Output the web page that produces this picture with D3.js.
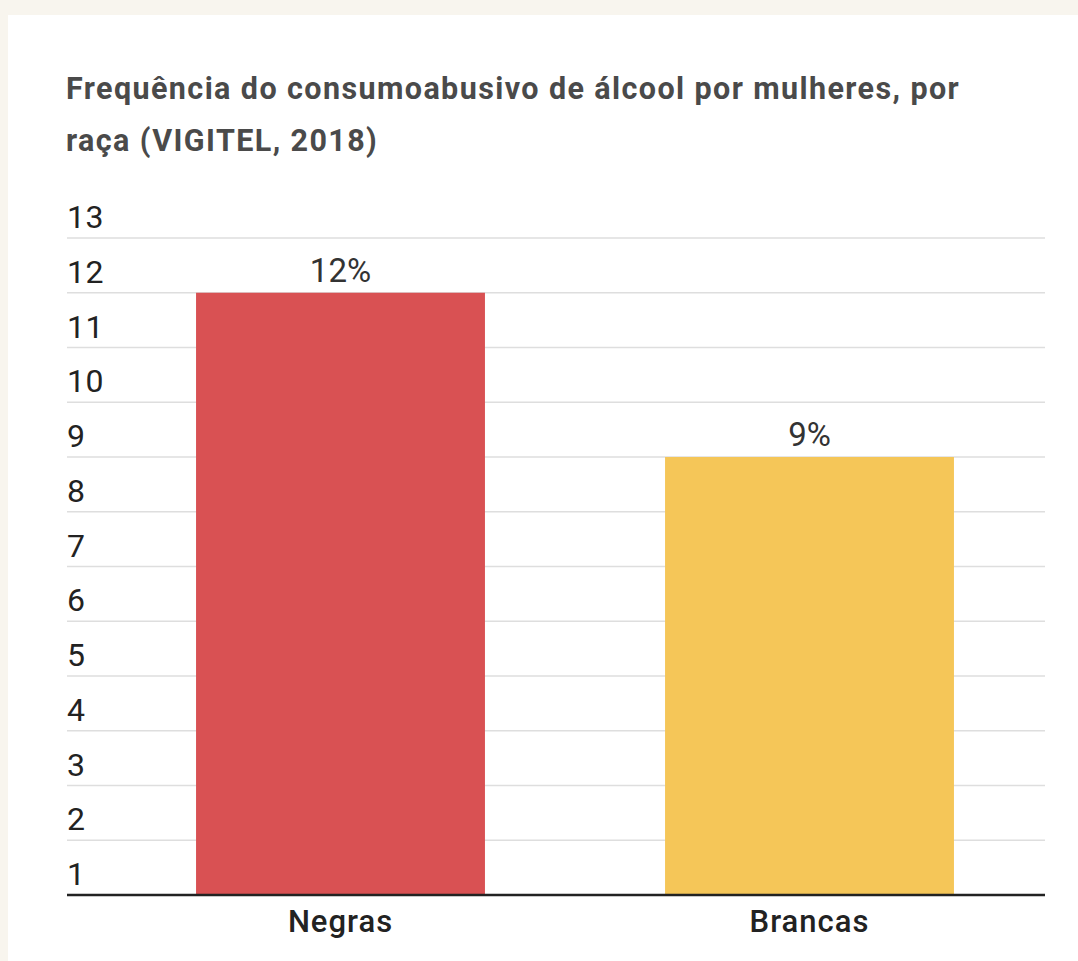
<!DOCTYPE html>
<html><head><meta charset="utf-8">
<script src="https://cdn.jsdelivr.net/npm/d3@7"></script>
<style>
html,body{margin:0;padding:0;background:#f8f5ee;}
svg{display:block;}
</style></head>
<body>
<script>
const categories = ["Negras", "Brancas"];
const values = [12, 9];
const valueLabels = ["12%", "9%"];
const barColors = ["#d95153", "#f5c658"];
const yTicks = [1,2,3,4,5,6,7,8,9,10,11,12,13];
const titleLines = ["Frequência do consumoabusivo de álcool por mulheres, por", "raça (VIGITEL, 2018)"];

const W = 1078, H = 961;
const svg = d3.select("body").append("svg").attr("width", W).attr("height", H);
svg.append("rect").attr("x", 8).attr("y", 15).attr("width", W - 8).attr("height", H - 15).attr("fill", "#ffffff");

const font = "Roboto, 'Noto Sans', sans-serif";

svg.append("g").selectAll("text").data(titleLines).join("text")
  .attr("x", 66).attr("y", (d, i) => 99 + i * 52)
  .attr("font-family", font).attr("font-weight", 700).attr("font-size", 30.5)
  .attr("letter-spacing", 1.4)
  .attr("fill", "#4a4a4a").text(d => d);

const y = d3.scaleLinear().domain([1, 13]).range([895, 238]);
const x = d3.scaleBand().domain(categories).range([106, 1044]).paddingInner(0.384).paddingOuter(0.192);

const gridX1 = 67, gridX2 = 1045;
const grid = svg.append("g");
grid.selectAll("line").data(yTicks.filter(t => t !== 1)).join("line")
  .attr("x1", gridX1).attr("x2", gridX2)
  .attr("y1", d => y(d)).attr("y2", d => y(d))
  .attr("stroke", "#dedede").attr("stroke-width", 1.5);

svg.append("g").selectAll("text").data(yTicks).join("text")
  .attr("x", 67).attr("y", d => y(d) - 10)
  .attr("font-family", font).attr("font-size", 32).attr("fill", "#222")
  .attr("letter-spacing", 0.5)
  .text(d => d);

svg.append("g").selectAll("rect").data(values).join("rect")
  .attr("x", (d, i) => x(categories[i]))
  .attr("width", x.bandwidth())
  .attr("y", d => y(d))
  .attr("height", d => y(1) - y(d))
  .attr("fill", (d, i) => barColors[i]);

svg.append("g").selectAll("text").data(values).join("text")
  .attr("x", (d, i) => x(categories[i]) + x.bandwidth() / 2)
  .attr("y", d => y(d) - 11)
  .attr("text-anchor", "middle")
  .attr("font-family", font).attr("font-size", 33).attr("fill", "#333")
  .text((d, i) => valueLabels[i]);

svg.append("line").attr("x1", gridX1).attr("x2", gridX2)
  .attr("y1", y(1)).attr("y2", y(1)).attr("stroke", "#222").attr("stroke-width", 2.5);

svg.append("g").selectAll("text").data(categories).join("text")
  .attr("x", d => x(d) + x.bandwidth() / 2)
  .attr("y", 932)
  .attr("text-anchor", "middle")
  .attr("font-family", font).attr("font-weight", 500).attr("font-size", 31).attr("fill", "#222")
  .attr("letter-spacing", 1)
  .text(d => d);
</script>
</body></html>
